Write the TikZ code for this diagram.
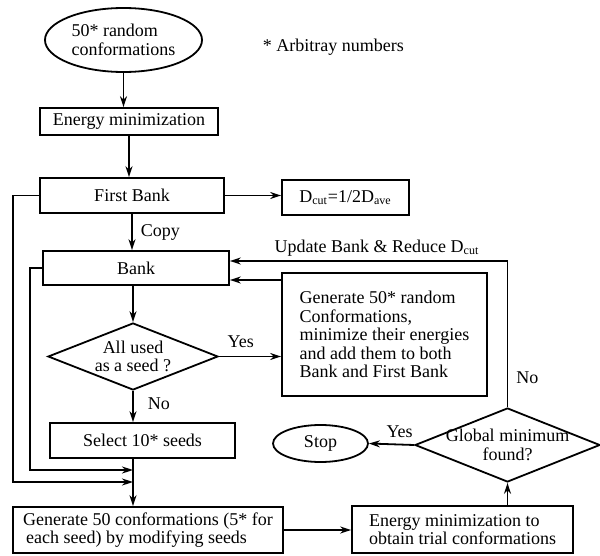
\documentclass[tikz,border=0pt]{standalone}
\usepackage{fontspec}
\setmainfont{Liberation Serif}
\usetikzlibrary{arrows.meta,positioning,shapes.geometric}

\begin{document}
\begin{tikzpicture}[x=0.5pt,y=-0.5pt,line width=0.9pt,font=\fontsize{9}{9.2}\selectfont,
>={Stealth[length=5.5pt,width=3.5pt]},
box/.style={draw,rectangle,inner sep=0pt,align=center},
term/.style={draw,ellipse,inner sep=0pt,align=left},
decision/.style={draw,diamond,inner sep=0pt},
lbl/.style={inner sep=0pt}]
\useasboundingbox (0,0) rectangle (600,556);
\node[term,minimum width=78.5pt,minimum height=32pt] (rand) at (123.5,40) {50* random\\conformations};
\node[lbl,anchor=west] (note) at (262,47) {* Arbitray numbers};
\node[box,minimum width=89pt,minimum height=13.5pt] (emin) at (129,121.5) {Energy minimization};
\node[box,minimum width=92pt,minimum height=17.5pt] (first) at (132,195.5) {First Bank};
\node[box,minimum width=63.5pt,minimum height=17.5pt] (dcut) at (345.5,197.5) {D\textsubscript{cut}=1/2D\textsubscript{ave}};
\node[box,minimum width=93pt,minimum height=17pt] (bank) at (136,268) {Bank};
\node[decision,minimum width=85pt,minimum height=33.5pt,label={[align=center]center:All used\\as a seed ?}] (used) at (133,356.5) {};
\node[box,align=left,minimum width=102.5pt,minimum height=61.5pt] (rnew) at (384.5,334.5) {Generate 50* random\\Conformations,\\minimize their energies\\and add them to both\\Bank and First Bank};
\node[box,minimum width=92.5pt,minimum height=17.5pt] (sel) at (142.5,440.5) {Select 10* seeds};
\node[box,align=left,minimum width=135pt,minimum height=23pt] (gen) at (148,530) {Generate 50 conformations (5* for\\\hspace*{1.5pt}each seed) by modifying seeds};
\node[box,align=left,minimum width=110.5pt,minimum height=23.5pt] (trial) at (462.5,529.5) {Energy minimization to\\obtain trial conformations};
\node[decision,minimum width=92.5pt,minimum height=37pt,label={[align=center]center:Global minimum\\found?}] (glob) at (507.5,445) {};
\node[term,minimum width=47.5pt,minimum height=18.5pt] (stop) at (320.5,443.5) {Stop};
\coordinate (outer) at (13,482);
\coordinate (inner) at (30,470);
\coordinate (upd) at (507.5,261);
\path[->]
(rand.south) edge (rand.south |- emin.north)
(emin.south) edge (emin.south |- first.north)
(first.east) edge (first.east -| dcut.west)
(first.south) edge node[lbl,right=4pt]{Copy} (first.south |- bank.north)
(bank.south -| used.north) edge (used.north)
(used.east) edge node[lbl,above=4pt,pos=0.35]{Yes} (used.east -| rnew.west)
(used.south) edge node[lbl,right=7pt,pos=0.4]{No} (used.south |- sel.north)
(used.south |- sel.south) edge (used.south |- gen.north)
([yshift=-6pt]bank.east -| rnew.west) edge ([yshift=-6pt]bank.east)
(glob.west) edge node[lbl,above=3pt,pos=0.32]{Yes} (stop.east)
(gen.east) edge (gen.east -| trial.west)
(trial.north -| glob.south) edge (glob.south);
\draw[->] (first.west) -| (outer) -- (outer -| used.south);
\draw[->] (bank.west) -| (inner) -- (inner -| used.south);
\draw[->] (glob.north) -- node[lbl,right=4pt,pos=0.2]{No} (upd) -- node[lbl,above=2pt,pos=0.47]{Update Bank \& Reduce D\textsubscript{cut}} (upd -| bank.east);
\end{tikzpicture}
\end{document}
